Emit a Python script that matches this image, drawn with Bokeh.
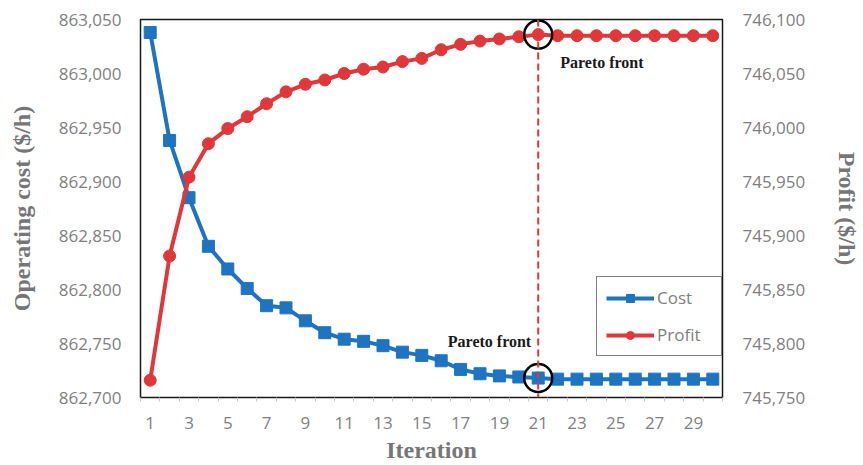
from bokeh.plotting import figure
from bokeh.models import (Range1d, LinearAxis, FixedTicker, NumeralTickFormatter,
                          Legend, LegendItem, Label, Span)
from bokeh.embed import file_html
from bokeh.resources import INLINE

iterations = list(range(1, 31))
cost = [863038, 862938, 862885, 862840, 862819, 862801, 862785, 862783, 862771, 862760,
        862754, 862752, 862748, 862742, 862739, 862734, 862726, 862722, 862720, 862719,
        862718, 862717, 862717, 862717, 862717, 862717, 862717, 862717, 862717, 862717]
profit = [745766, 745881, 745954, 745985, 745999, 746010, 746022, 746033, 746040, 746044,
          746050, 746054, 746056, 746061, 746064, 746072, 746077, 746080, 746082, 746084,
          746086, 746085, 746085, 746085, 746085, 746085, 746085, 746085, 746085, 746085]
x_tick_labels = list(range(1, 30, 2))
cost_ticks = list(range(862700, 863051, 50))
profit_ticks = list(range(745750, 746101, 50))
pareto_iter = 21

BLUE = "#1f74c0"
RED = "#e0373a"
GRAY = "#7f7f7f"
TITLE_GRAY = "#767676"

p = figure(width=863, height=465, output_backend="svg", toolbar_location=None,
           x_range=Range1d(0.5, 30.5), y_range=Range1d(862700, 863050),
           min_border_left=140, min_border_right=130, min_border_top=19, min_border_bottom=68)
p.extra_y_ranges = {"profit": Range1d(745750, 746100)}

p.xgrid.visible = False
p.ygrid.visible = False
p.outline_line_color = "black"
p.outline_line_width = 1.5
p.outline_line_alpha = 0.9


def style_axis(ax, standoff):
    ax.axis_line_color = None
    ax.major_tick_line_color = None
    ax.major_tick_out = 0
    ax.major_tick_in = 0
    ax.major_label_standoff = standoff
    ax.major_label_text_font = "Open Sans"
    ax.major_label_text_font_size = "17px"
    ax.major_label_text_color = GRAY
    ax.axis_label_text_font = "Liberation Serif"
    ax.axis_label_text_font_style = "bold"
    ax.axis_label_text_font_size = "24px"
    ax.axis_label_text_color = TITLE_GRAY


# x axis
xa = p.xaxis[0]
xa.ticker = FixedTicker(ticks=x_tick_labels, minor_ticks=[i + 0.5 for i in range(0, 31)])
style_axis(xa, 15)
xa.minor_tick_out = 4
xa.minor_tick_in = 0
xa.minor_tick_line_color = "#c8c8c8"
xa.minor_tick_line_width = 1
xa.axis_label = "Iteration"
xa.axis_label_standoff = 5

# left y axis
ya = p.yaxis[0]
ya.ticker = FixedTicker(ticks=cost_ticks)
ya.formatter = NumeralTickFormatter(format="0,0")
style_axis(ya, 19)
ya.minor_tick_line_color = None
ya.minor_tick_out = 0
ya.axis_label = "Operating cost ($/h)"
ya.axis_label_standoff = 21

# right y axis
ry = LinearAxis(y_range_name="profit", ticker=FixedTicker(ticks=profit_ticks),
                formatter=NumeralTickFormatter(format="0,0"))
style_axis(ry, 20)
ry.minor_tick_line_color = None
ry.minor_tick_out = 0
ry.axis_label = "Profit ($/h)"
ry.axis_label_standoff = 26
p.add_layout(ry, "right")

# series
cl = p.line(iterations, cost, line_color=BLUE, line_width=4)
cm = p.scatter(iterations, cost, marker="square", size=12, fill_color=BLUE, line_color=BLUE)
pl = p.line(iterations, profit, line_color=RED, line_width=4, y_range_name="profit")
pm = p.scatter(iterations, profit, marker="circle", size=12, fill_color=RED, line_color=RED,
               y_range_name="profit")

# pareto markers
p.add_layout(Span(location=pareto_iter, dimension="height", line_color=RED,
                  line_width=2, line_dash="7 4"))
p.scatter([pareto_iter], [cost[pareto_iter - 1]], marker="circle", size=28,
          fill_color=None, line_color="black", line_width=2.5)
p.scatter([pareto_iter], [profit[pareto_iter - 1]], marker="circle", size=28,
          fill_color=None, line_color="black", line_width=2.5, y_range_name="profit")

p.add_layout(Label(x=pareto_iter, y=335, y_units="screen", x_offset=22, text="Pareto front",
                   text_font="Liberation Serif", text_font_style="bold", text_font_size="16px",
                   text_color="#1a1a1a", text_align="left", text_baseline="middle"))
p.add_layout(Label(x=pareto_iter, y=56, y_units="screen", x_offset=-7, text="Pareto front",
                   text_font="Liberation Serif", text_font_style="bold", text_font_size="16px",
                   text_color="#1a1a1a", text_align="right", text_baseline="middle"))

legend = Legend(items=[LegendItem(label="Cost", renderers=[cl, cm]),
                       LegendItem(label="Profit", renderers=[pl, pm])],
                location=(456, 41), orientation="vertical",
                glyph_width=48, glyph_height=20, label_height=20, label_width=55,
                label_standoff=3, spacing=14, padding=9, margin=0,
                label_text_font="Open Sans", label_text_font_size="17px",
                label_text_color=GRAY, border_line_color="black", border_line_width=1.5,
                background_fill_color="white", background_fill_alpha=1)
p.add_layout(legend, "center")

open("out.html", "w").write(file_html(p, INLINE))
